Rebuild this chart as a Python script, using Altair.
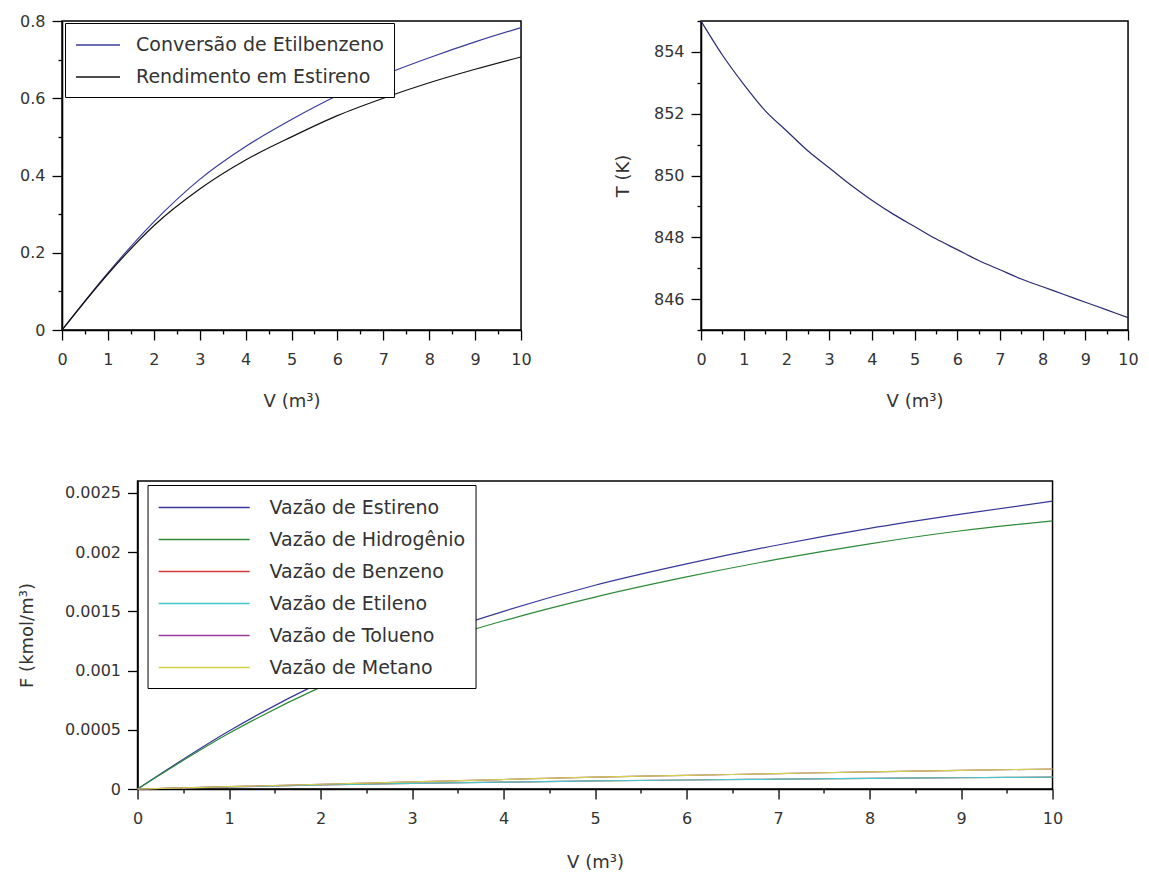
import altair as alt
import pandas as pd

# ---------------- data ----------------
V = [0, 1, 2, 3, 4, 5, 6, 7, 8, 9, 10]
conversao = [0.0, 0.148, 0.28, 0.39, 0.475, 0.545, 0.607, 0.66, 0.705, 0.746, 0.783]
rendimento = [0.0, 0.145, 0.27, 0.365, 0.44, 0.50, 0.555, 0.60, 0.64, 0.675, 0.707]

V_T = [0, 0.5, 1, 1.5, 2, 2.5, 3, 3.5, 4, 4.5, 5, 5.5, 6, 6.5, 7, 7.5, 8, 8.5, 9, 9.5, 10]
T = [855.0, 853.9, 852.95, 852.1, 851.45, 850.8, 850.25, 849.7, 849.2, 848.75, 848.35,
     847.95, 847.6, 847.25, 846.95, 846.65, 846.4, 846.15, 845.9, 845.65, 845.4]

F_estireno = [0.0, 0.00049, 0.00090, 0.00124, 0.00150, 0.00172, 0.00190, 0.00206, 0.00220, 0.00232, 0.00243]
F_hidrogenio = [0.0, 0.00047, 0.00086, 0.00118, 0.00142, 0.00162, 0.00179, 0.00194, 0.00207, 0.00218, 0.002264]
F_benzeno = [0.0, 0.000018, 0.000034, 0.000047, 0.000058, 0.000068, 0.000076, 0.000083, 0.00009, 0.000095, 0.0001]
F_etileno = [0.0, 0.000018, 0.000034, 0.000047, 0.000058, 0.000068, 0.000076, 0.000083, 0.00009, 0.000095, 0.0001]
F_tolueno = [0.0, 0.00002, 0.00004, 0.00006, 0.00008, 0.0001, 0.000115, 0.00013, 0.000145, 0.000157, 0.000169]
F_metano = [0.0, 0.00002, 0.00004, 0.00006, 0.00008, 0.0001, 0.000115, 0.00013, 0.000145, 0.000157, 0.000169]

serie_top = ["Conversão de Etilbenzeno", "Rendimento em Estireno"]
cores_top = ["#3b3b9c", "#111111"]
serie_F = ["Vazão de Estireno", "Vazão de Hidrogênio", "Vazão de Benzeno",
           "Vazão de Etileno", "Vazão de Tolueno", "Vazão de Metano"]
cores_F = ["#38389a", "#2e8a3a", "#d03a3a", "#45c8cc", "#9a3a9a", "#d2d24a"]

x_ticks = [i * 0.5 for i in range(21)]
y1_ticks = [round(i * 0.1, 1) for i in range(9)]
yT_ticks = list(range(845, 856))
yF_ticks = [0, 0.0005, 0.001, 0.0015, 0.002, 0.0025]

FONT = "DejaVu Sans"
TXT = "#333333"

# ---------------- tables ----------------
df_top = pd.DataFrame({
    "V": V * 2,
    "val": conversao + rendimento,
    "serie": [serie_top[0]] * len(V) + [serie_top[1]] * len(V),
})
df_T = pd.DataFrame({"V": V_T, "T": T})
F_all = [F_estireno, F_hidrogenio, F_benzeno, F_etileno, F_tolueno, F_metano]
rows = []
for k, (nome, vals) in enumerate(zip(serie_F, F_all)):
    for v, f in zip(V, vals):
        rows.append({"V": v, "F": f, "serie": nome, "ordem": k})
df_F = pd.DataFrame(rows)


def x_axis(title_pad):
    return alt.Axis(
        values=x_ticks,
        labelExpr="datum.value % 1 == 0 ? '' + datum.value : ''",
        tickSize={"condition": {"test": "datum.value % 1 != 0", "value": 4}, "value": 10},
        title="V (m³)",
        titlePadding=title_pad,
        labelPadding=11,
    )


xs = alt.Scale(domain=[0, 10], nice=False, zero=False)

# ---- top-left ----
top_left = alt.Chart(df_top).mark_line(strokeWidth=1.2, interpolate="monotone").encode(
    x=alt.X("V:Q", scale=xs, axis=x_axis(25)),
    y=alt.Y("val:Q", scale=alt.Scale(domain=[0, 0.8], nice=False),
            axis=alt.Axis(values=y1_ticks,
                          labelExpr="round(datum.value*10) % 2 == 0 ? '' + datum.value : ''",
                          tickSize={"condition": {"test": "round(datum.value*10) % 2 == 1", "value": 4}, "value": 10},
                          title=None, labelPadding=7)),
    color=alt.Color("serie:N", sort=serie_top,
                    scale=alt.Scale(domain=serie_top, range=cores_top),
                    legend=alt.Legend(title=None, orient="none", legendX=3, legendY=2,
                                      symbolType="M-1,0H3", symbolSize=484, symbolStrokeWidth=1.5,
                                      labelFontSize=19, labelFont=FONT, labelColor=TXT,
                                      labelOffset=37, rowPadding=10, padding=10,
                                      strokeColor="black", fillColor="white", labelLimit=400)),
    order=alt.Order("serie:N"),
).properties(width=459, height=309)

# ---- top-right ----
top_right = alt.Chart(df_T).mark_line(strokeWidth=1.2, interpolate="monotone", color="#2a2a70").encode(
    x=alt.X("V:Q", scale=xs, axis=x_axis(25)),
    y=alt.Y("T:Q", scale=alt.Scale(domain=[845, 855], nice=False, zero=False),
            axis=alt.Axis(values=yT_ticks,
                          labelExpr="datum.value % 2 == 0 ? '' + datum.value : ''",
                          tickSize={"condition": {"test": "datum.value % 2 == 1", "value": 4}, "value": 10},
                          title="T (K)", titlePadding=21, labelPadding=7)),
).properties(width=427, height=309)

# ---- bottom ----
bottom = alt.Chart(df_F).mark_line(strokeWidth=1.2, interpolate="monotone").encode(
    x=alt.X("V:Q", scale=xs, axis=x_axis(27)),
    y=alt.Y("F:Q", scale=alt.Scale(domain=[0, 0.0026], nice=False),
            axis=alt.Axis(values=yF_ticks, labelExpr="'' + datum.value",
                          tickSize=10, title="F (kmol/m³)", titlePadding=28, labelPadding=7)),
    color=alt.Color("serie:N", sort=serie_F,
                    scale=alt.Scale(domain=serie_F, range=cores_F),
                    legend=alt.Legend(title=None, orient="none", legendX=10, legendY=4,
                                      symbolType="M-1,0H7", symbolSize=518, symbolStrokeWidth=1.5,
                                      labelFontSize=19, labelFont=FONT, labelColor=TXT,
                                      labelOffset=87, rowPadding=9, padding=10,
                                      strokeColor="black", fillColor="white", labelLimit=400)),
    order=alt.Order("ordem:Q"),
).properties(width=915, height=308)

top = alt.hconcat(top_left, top_right, spacing=81).resolve_scale(color="independent")
chart = alt.vconcat(top, bottom, spacing=69, center=True).resolve_scale(
    color="independent"
).properties(
    padding={"left": 17, "top": 12, "right": 5, "bottom": 0},
    background="white",
).configure_view(
    stroke="black", strokeWidth=1.5
).configure_axis(
    grid=False, labelFlush=False, labelOverlap=False,
    domainColor="black", domainWidth=1.5,
    tickColor="black", tickWidth=1.3,
    labelFont=FONT, labelFontSize=16, labelColor=TXT,
    titleFont=FONT, titleFontSize=18, titleFontWeight="normal", titleColor=TXT,
)

chart.save("out.html", embed_options={"renderer": "svg", "actions": False})
